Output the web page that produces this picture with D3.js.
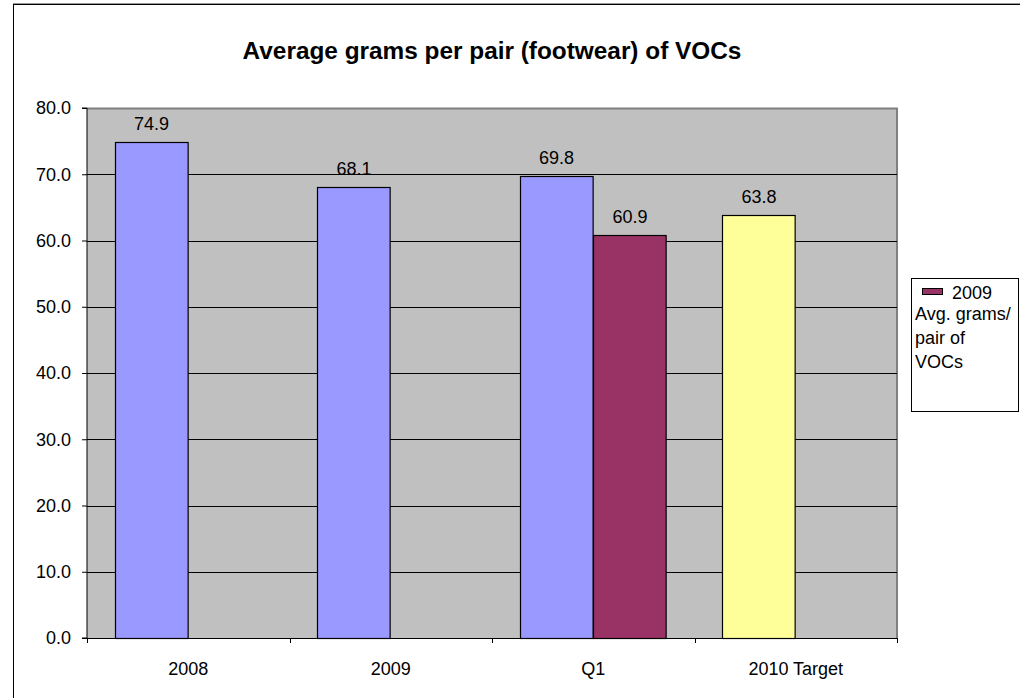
<!DOCTYPE html>
<html>
<head>
<meta charset="utf-8">
<script src="https://d3js.org/d3.v7.min.js"></script>
<style>
  body { margin: 0; background: #fff; }
  svg text { font-family: "Liberation Sans", Arial, sans-serif; fill: #000; }
</style>
</head>
<body>
<svg id="chart" width="1020" height="698"></svg>
<script>
// data
const categories = ["2008", "2009", "Q1", "2010 Target"];
const seriesMain = [74.9, 68.1, 69.8, 63.8];
const seriesQ1 = [null, null, 60.9, null];
const mainColors = ["#9999FF", "#9999FF", "#9999FF", "#FFFF99"];
const legendLines = ["Avg. grams/", "pair of", "VOCs"];
const yTicks = [0, 10, 20, 30, 40, 50, 60, 70, 80];

const margin = {top: 108, left: 87, right: 123, bottom: 60};
const W = 1020, H = 698;
const plotW = W - margin.left - margin.right,
      plotH = H - margin.top - margin.bottom;
const fs = 18;

const svg = d3.select("#chart");

// outer chart border (runs off the page on right and bottom)
svg.append("line")
  .attr("x1", 13).attr("x2", 1020).attr("y1", 3.5).attr("y2", 3.5)
  .attr("stroke", "#999");
svg.append("rect")
  .attr("x", 13.5).attr("y", 4.5)
  .attr("width", 1020).attr("height", 700)
  .attr("fill", "#fff").attr("stroke", "#000").attr("stroke-width", 1);

// title, stretched a little to the reference's width
svg.append("text")
  .attr("transform", "translate(492,59) scale(1.06,1)")
  .attr("text-anchor", "middle")
  .attr("font-size", 23).attr("font-weight", "bold")
  .text("Average grams per pair (footwear) of VOCs");

const g = svg.append("g").attr("transform", `translate(${margin.left},${margin.top})`);

const x = d3.scaleBand().domain(categories).range([0, plotW]).paddingInner(0).paddingOuter(0);
// two series slots per group, gap width 150%
const x1 = d3.scaleBand().domain([0, 1]).range([0, x.bandwidth()]).paddingOuter(0.375).paddingInner(0);
const y = d3.scaleLinear().domain([0, 80]).range([plotH, 0]);

// plot area
g.append("rect")
  .attr("width", plotW).attr("height", plotH)
  .attr("fill", "#C0C0C0");
g.append("path")
  .attr("d", `M0,0.5H${plotW}V${plotH}`)
  .attr("fill", "none").attr("stroke", "#808080").attr("stroke-width", 2);

// gridlines
g.selectAll(".grid").data(yTicks.slice(1, -1)).join("line")
  .attr("x1", 0).attr("x2", plotW)
  .attr("y1", d => Math.round(y(d)) + 0.5).attr("y2", d => Math.round(y(d)) + 0.5)
  .attr("stroke", "#000");

// bars
const rows = categories.map((c, i) => [
  {c, s: 0, v: seriesMain[i], color: mainColors[i]},
  {c, s: 1, v: seriesQ1[i], color: "#993366"}
]).flat().filter(d => d.v != null);

g.selectAll(".bar").data(rows).join("rect")
  .attr("x", d => Math.round(x(d.c) + x1(d.s)) + 0.5)
  .attr("y", d => Math.round(y(d.v)) + 0.5)
  .attr("width", x1.bandwidth() - 1)
  .attr("height", d => Math.round(y(0)) - Math.round(y(d.v)))
  .attr("fill", d => d.color)
  .attr("stroke", "#000").attr("stroke-width", 1.2);

g.selectAll(".lbl").data(rows).join("text")
  .attr("x", d => x(d.c) + x1(d.s) + x1.bandwidth() / 2)
  .attr("y", d => y(d.v) - 12)
  .attr("text-anchor", "middle")
  .attr("font-size", fs)
  .text(d => d.v.toFixed(1));

// y axis
const yAxis = g.append("g")
  .call(d3.axisLeft(y).tickValues(yTicks).tickSize(5).tickPadding(11).tickFormat(d3.format(".1f")));
yAxis.selectAll("text").attr("font-size", fs).attr("font-family", "Liberation Sans, Arial, sans-serif");
yAxis.selectAll("line, path").attr("stroke", "#000");
yAxis.select(".domain").attr("d", `M-5,${plotH}H0V0H-5`);

// x axis
const xAxis = g.append("g").attr("transform", `translate(0,${plotH})`)
  .call(d3.axisBottom(x).tickSize(0).tickPadding(24));
xAxis.selectAll("text").attr("font-size", fs).attr("font-family", "Liberation Sans, Arial, sans-serif");
xAxis.select(".domain").attr("stroke", "#000");
xAxis.selectAll(".sep").data(d3.range(categories.length + 1)).join("line")
  .attr("x1", i => Math.round(i * x.step()) + 0.5).attr("x2", i => Math.round(i * x.step()) + 0.5)
  .attr("y1", 0).attr("y2", 5).attr("stroke", "#000");

// legend
const lg = svg.append("g").attr("transform", "translate(911,278)");
lg.append("rect").attr("x", 0.5).attr("y", 0.5).attr("width", 107).attr("height", 133)
  .attr("fill", "#fff").attr("stroke", "#000");
lg.append("rect").attr("x", 11.5).attr("y", 10.5).attr("width", 20).attr("height", 6)
  .attr("fill", "#993366").attr("stroke", "#000");
lg.append("text").attr("x", 41).attr("y", 21).attr("font-size", fs).text("2009");
lg.selectAll(".ll").data(legendLines).join("text")
  .attr("x", 4).attr("y", (d, i) => 42 + i * 23.8)
  .attr("font-size", fs).text(d => d);
</script>
</body>
</html>
